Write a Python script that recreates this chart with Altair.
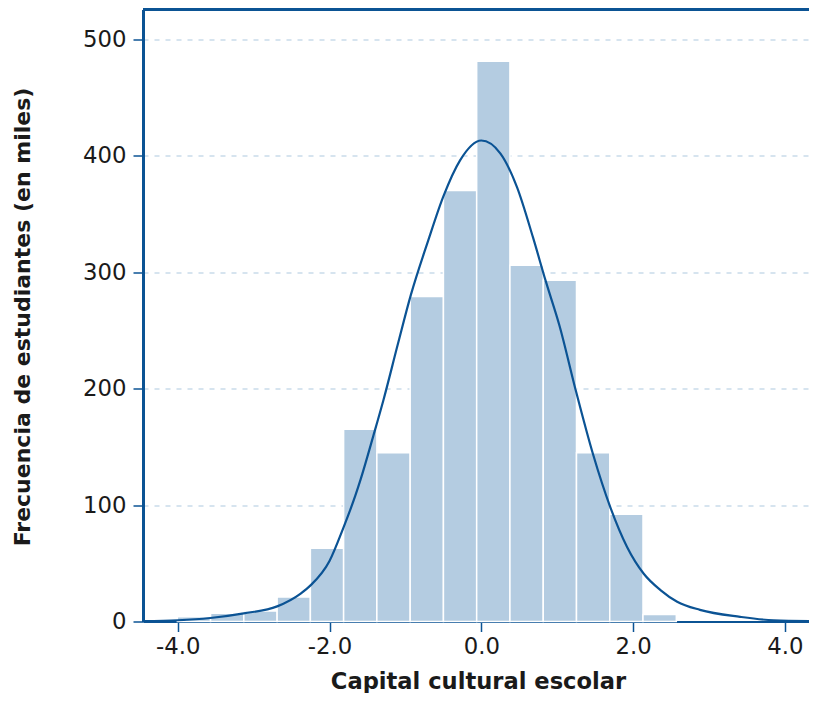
import altair as alt
import pandas as pd

# Histogram bins (Capital cultural escolar) and counts (miles de estudiantes)
bin_start = [-4.005, -3.567, -3.129, -2.690, -2.252, -1.814, -1.376, -0.937,
             -0.499, -0.061, 0.377, 0.816, 1.254, 1.692, 2.130]
bin_end = [-3.567, -3.129, -2.690, -2.252, -1.814, -1.376, -0.937, -0.499,
           -0.061, 0.377, 0.816, 1.254, 1.692, 2.130, 2.569]
counts = [4, 7, 9, 21, 63, 165, 145, 279, 370, 481, 306, 293, 145, 92, 6]

# Fitted density curve
curve_x = [-4.46, -4.0, -3.57, -3.13, -2.69, -2.38, -2.25, -2.0, -1.82, -1.66,
           -1.59, -1.42, -1.29, -1.10, -0.93, -0.70, -0.50, -0.28, 0.0, 0.25,
           0.47, 0.68, 0.85, 1.03, 1.25, 1.47, 1.70, 1.92, 2.14, 2.36, 2.58,
           2.88, 3.41, 3.85, 4.41]
curve_y = [0.3, 1, 3, 7, 13, 24, 31, 52, 80, 108,
           122, 160, 190, 238, 280, 327, 365, 396, 413, 402,
           373, 330, 292, 254, 197, 144, 98, 64, 41, 27, 17,
           10, 4, 1, 0.3]

x_ticks = [-4, -2, 0, 2, 4]
y_ticks = [0, 100, 200, 300, 400, 500]

AX = "#0b5394"
W, H = 666, 612
FONT = "DejaVu Sans"
TXT = "#1a1a1a"

bars_df = pd.DataFrame({"x0": bin_start, "x1": bin_end, "n": counts,
                        "base": [0] * len(counts)})
curve_df = pd.DataFrame({"x": curve_x, "y": curve_y})

xscale = alt.Scale(domain=[-4.457, 4.317], nice=False, zero=False)
yscale = alt.Scale(domain=[0, 525.5], nice=False)

xaxis = alt.Axis(
    title="Capital cultural escolar", values=x_ticks, grid=False,
    labelExpr="datum.value < 0 ? '-' + format(-datum.value, '.1f') : format(datum.value, '.1f')",
    domainColor=AX, domainWidth=2, tickColor=AX, tickWidth=1.5, tickSize=10,
    labelFont=FONT, labelFontSize=22.8, labelColor=TXT, labelPadding=4,
    titleFont=FONT, titleFontSize=22.6, titleFontWeight="bold", titleColor=TXT,
    titleX=335, titleY=60, titleBaseline="middle", titleAlign="center",
)
yaxis = alt.Axis(
    title="Frecuencia de estudiantes (en miles)", values=y_ticks, grid=True,
    gridColor="#c9dbea", gridDash=[5, 6], gridWidth=1.5,
    domainColor=AX, domainWidth=3, tickColor=AX, tickWidth=1.5, tickSize=10,
    labelFont=FONT, labelFontSize=22.8, labelColor=TXT, labelPadding=7,
    titleFont=FONT, titleFontSize=22.0, titleFontWeight="bold", titleColor=TXT,
    titleX=-121, titleY=307, titleBaseline="middle", titleAlign="center",
    titleAngle=270,
)

bars = alt.Chart(bars_df).mark_bar(
    color="#b4cce1", stroke="white", strokeWidth=1.5
).encode(
    x=alt.X("x0:Q", scale=xscale, axis=xaxis),
    x2="x1:Q",
    y=alt.Y("n:Q", scale=yscale, axis=yaxis),
    y2="base:Q",
)

line = alt.Chart(curve_df).mark_line(
    color=AX, strokeWidth=2.2, interpolate="monotone", clip=True
).encode(
    x=alt.X("x:Q", scale=xscale),
    y=alt.Y("y:Q", scale=yscale),
)

top_border = alt.Chart(pd.DataFrame({"a": [0]})).mark_rule(
    color=AX, strokeWidth=3
).encode(x=alt.value(0), x2=alt.value(W), y=alt.value(0))

chart = alt.layer(bars, line, top_border).properties(
    width=W, height=H,
    autosize=alt.AutoSizeParams(type="none"),
    padding={"left": 135, "top": 1.5, "right": 0, "bottom": 71.5},
).configure_view(stroke=None)

chart.save("out.html", embed_options={"renderer": "svg", "actions": False})
